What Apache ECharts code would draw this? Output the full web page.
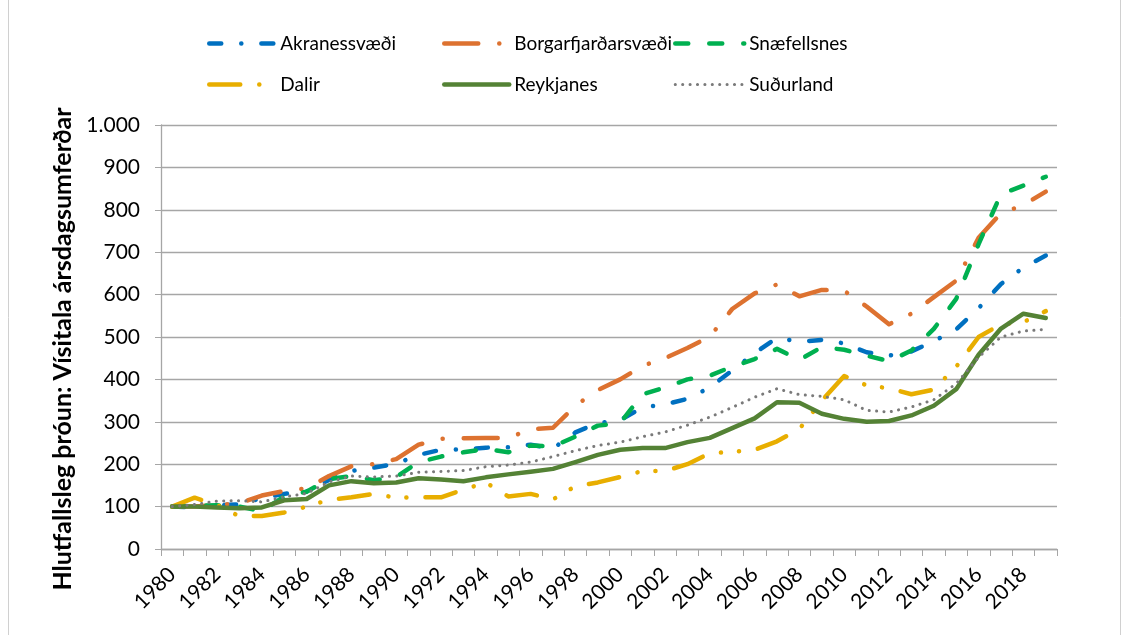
<!DOCTYPE html>
<html>
<head>
<meta charset="utf-8">
<script src="https://cdn.jsdelivr.net/npm/echarts@6/dist/echarts.min.js"></script>
<style>
  html, body { margin: 0; padding: 0; background: #fff; }
  #main { width: 1135px; height: 635px; }
</style>
</head>
<body>
<div id="main"></div>
<script>
// years 1980-2019
const years = []
for (let y = 1980; y <= 2019; y++) years.push(String(y))

const akranes = [100, 98, 103, 105, 120, 130, 136, 163, 184, 192, 201, 222, 234, 235, 239, 240, 246, 237, 275, 297,
  304, 334, 341, 354, 381, 421, 462, 498, 489, 493, 485, 464, 456, 466, 490, 518, 568, 625, 664, 692]
const borgar = [100, 100, 104, 108, 126, 137, 143, 172, 195, 200, 212, 246, 260, 261, 262, 262, 282, 286, 338, 375,
  400, 432, 450, 474, 501, 566, 603, 624, 596, 611, 609, 572, 530, 555, 594, 633, 734, 792, 811, 843]
const snaefell = [100, 102, 103, 100, 89, 124, 135, 165, 172, 162, 170, 205, 218, 228, 236, 228, 244, 242, 265, 291,
  297, 365, 381, 400, 409, 430, 448, 472, 446, 476, 470, 456, 443, 468, 519, 590, 719, 837, 857, 878]
const dalir = [100, 121, 104, 77, 78, 86, 100, 116, 122, 130, 121, 122, 122, 140, 157, 124, 130, 117, 148, 157,
  170, 184, 184, 200, 226, 229, 234, 254, 283, 350, 408, 386, 379, 365, 376, 430, 500, 530, 535, 561]
const reykjanes = [100, 100, 98, 96, 98, 115, 118, 150, 160, 155, 157, 167, 164, 160, 169, 176, 182, 189, 205, 222,
  234, 238, 238, 252, 262, 285, 308, 346, 345, 319, 307, 300, 302, 315, 338, 377, 458, 520, 555, 545]
const sudurland = [100, 105, 113, 114, 111, 123, 131, 158, 172, 170, 172, 181, 183, 185, 194, 198, 205, 218, 232, 244,
  252, 265, 276, 292, 311, 334, 358, 378, 364, 360, 352, 327, 323, 335, 352, 390, 452, 500, 514, 518]

const FONT = 'Lato, "Liberation Sans", sans-serif'

function fmt(v) {
  return String(v).replace(/\B(?=(\d{3})+(?!\d))/g, '.')
}

function line(name, data, color, width, dash) {
  return {
    name: name,
    type: 'line',
    data: data,
    symbol: 'none',
    showSymbol: false,
    lineStyle: {color: color, width: width, type: dash, cap: 'round', join: 'round'},
    itemStyle: {color: color}
  }
}

function legendCol(left, itemWidth, items) {
  return {
    orient: 'vertical',
    left: left,
    top: 34,
    padding: 0,
    itemWidth: itemWidth,
    itemHeight: 16,
    itemGap: 22,
    selectedMode: false,
    itemStyle: {opacity: 0},
    lineStyle: {cap: 'round'},
    textStyle: {fontFamily: FONT, fontSize: 19, color: '#000'},
    data: items.map(it => ({name: it[0], lineStyle: {width: it[1], cap: 'round'}}))
  }
}

const chart = echarts.init(document.getElementById('main'))
chart.setOption({
  animation: false,
  backgroundColor: '#fff',
  graphic: [{
    type: 'rect',
    shape: {x: 8.5, y: -2, width: 1112, height: 640},
    style: {fill: 'none', stroke: '#d0d0d0', lineWidth: 1}
  }],
  legend: [
    legendCol(207, 66, [['Akranessvæði', 4.5], ['Dalir', 4.5]]),
    legendCol(442, 65, [['Borgarfjarðarsvæði', 4.5], ['Reykjanes', 4.5]]),
    legendCol(673, 69, [['Snæfellsnes', 4.5], ['Suðurland', 3]])
  ],
  grid: {left: 161, right: 78, top: 125, bottom: 86},
  xAxis: {
    type: 'category',
    data: years,
    boundaryGap: true,
    axisLine: {lineStyle: {color: '#a6a6a6', width: 1.3}},
    axisTick: {show: true, length: 7, interval: 0, lineStyle: {color: '#a6a6a6'}},
    axisLabel: {
      interval: 1, rotate: 45, margin: 22,
      fontFamily: FONT, fontSize: 21, color: '#000'
    }
  },
  yAxis: {
    type: 'value',
    min: 0,
    max: 1000,
    interval: 100,
    name: 'Hlutfallsleg þróun: Vísitala ársdagsumferðar',
    nameLocation: 'middle',
    nameGap: 79,
    nameTextStyle: {fontFamily: FONT, fontSize: 25, fontWeight: 'bold', color: '#000', padding: [0, 24, 0, 0]},
    axisLine: {show: true, lineStyle: {color: '#a6a6a6', width: 1.3}},
    axisTick: {show: true, length: 6, lineStyle: {color: '#a6a6a6'}},
    splitLine: {lineStyle: {color: '#a6a6a6', width: 1.3}},
    axisLabel: {fontFamily: FONT, fontSize: 21, color: '#000', margin: 21, formatter: fmt}
  },
  series: [
    line('Akranessvæði', akranes, '#0070C0', 4.5, [12, 20, 0.1, 20]),
    line('Borgarfjarðarsvæði', borgar, '#DD7230', 4.5, [34, 21, 0.1, 21]),
    line('Snæfellsnes', snaefell, '#00B050', 4.5, [13, 21]),
    line('Dalir', dalir, '#E8AE00', 4.5, [31, 19, 0.1, 18, 0.1, 19]),
    line('Reykjanes', reykjanes, '#548235', 4.5, 'solid'),
    line('Suðurland', sudurland, '#7A7A7A', 3, [0.1, 7.3])
  ]
})
</script>
</body>
</html>
